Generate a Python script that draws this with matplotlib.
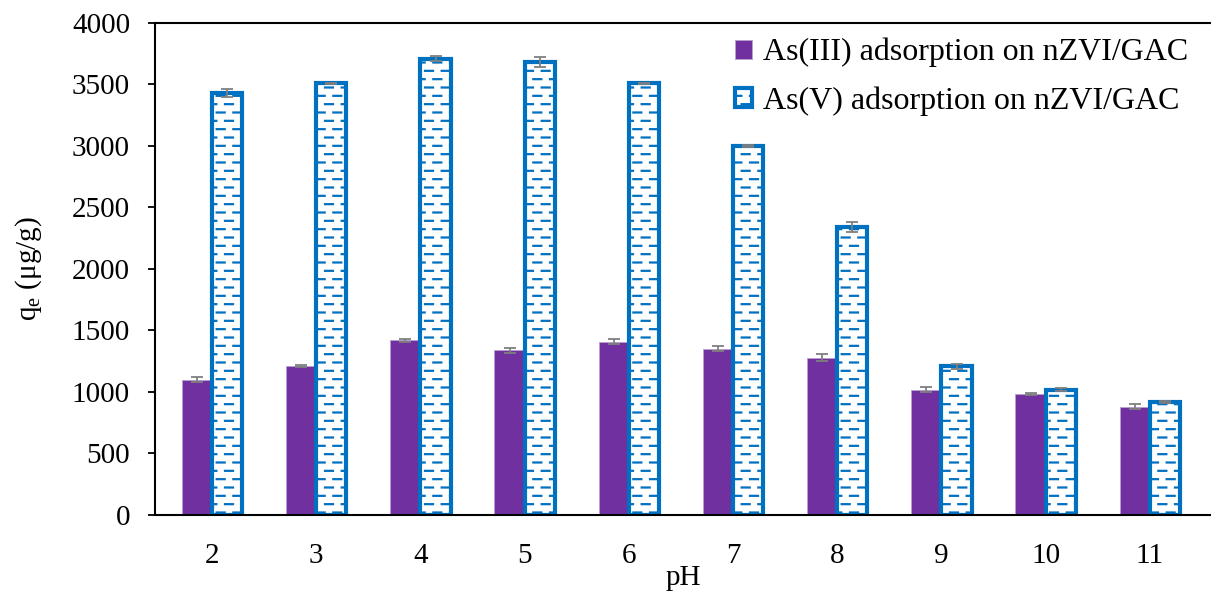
import matplotlib
matplotlib.use('Agg')
import matplotlib.pyplot as plt
import matplotlib.hatch as mhatch
from matplotlib.path import Path
import numpy as np

# ========= data =========
ph = ['2', '3', '4', '5', '6', '7', '8', '9', '10', '11']
as3 = [1100, 1210, 1420, 1340, 1410, 1350, 1280, 1020, 985, 880]
as3_err = [20, 10, 10, 20, 20, 20, 30, 20, 10, 20]
as5 = [3430, 3510, 3710, 3680, 3510, 3000, 2340, 1210, 1020, 920]
as5_err = [30, 5, 20, 40, 5, 5, 40, 20, 10, 10]


# staggered short dashes, like the Excel "dashed horizontal" pattern
class DashHatch(mhatch.HatchPatternBase):
    def __init__(self, hatch, density):
        self.rows = hatch.count('d') * density
        self.per_row = self.rows // 2
        self.num_vertices = self.rows * self.per_row * 2 if self.rows else 0

    def set_vertices_and_codes(self, vertices, codes):
        k = 0
        step = 1.0 / self.per_row
        for r in range(self.rows):
            y = (r + 0.5) / self.rows
            off = 0.0 if r % 2 == 0 else step / 2
            for c in range(self.per_row):
                x0 = c * step + off
                vertices[k] = (x0, y)
                vertices[k + 1] = (x0 + step * 0.48, y)
                codes[k] = Path.MOVETO
                codes[k + 1] = Path.LINETO
                k += 2


mhatch._hatch_types.append(DashHatch)

plt.rcParams['font.family'] = ['Liberation Serif', 'DejaVu Serif']
plt.rcParams['mathtext.fontset'] = 'custom'
plt.rcParams['mathtext.rm'] = 'Liberation Serif'
plt.rcParams['hatch.linewidth'] = 1.6

purple = '#7030A0'
blue = '#0070C0'

fig = plt.figure(figsize=(12.11, 6.0), dpi=100)
ax = fig.add_axes([0.128, 0.1417, 0.872, 0.82])

x = np.arange(len(ph))
w = 0.29
ax.bar(x - w / 2, as3, w, color=purple, edgecolor='#b9a0d0', linewidth=0.6,
       yerr=as3_err, capsize=4, error_kw=dict(ecolor='#7f7f7f', elinewidth=1.3, capthick=1.3),
       label='As(III) adsorption on nZVI/GAC', zorder=2)
ax.bar(x + w / 2, as5, w, color='white', edgecolor=blue, linewidth=3, hatch='dd',
       yerr=as5_err, capsize=4, error_kw=dict(ecolor='#7f7f7f', elinewidth=1.3, capthick=1.3),
       label='As(V) adsorption on nZVI/GAC', zorder=2)

ax.set_xlim(-0.547, 9.587)
ax.set_ylim(0, 4000)
ax.set_yticks(np.arange(0, 4001, 500))
ax.set_xticks(x)
ax.set_xticklabels(ph)
ax.tick_params(axis='y', direction='out', length=5, width=1.3, labelsize=21, pad=13)
ax.tick_params(axis='x', length=0, labelsize=21, pad=20)

for s in ['left', 'bottom', 'top']:
    ax.spines[s].set_linewidth(1.5)
ax.spines['right'].set_visible(False)

ax.set_xlabel('pH', fontsize=21, labelpad=-3)
ax.set_ylabel('q$_\\mathrm{e}$ (μg/g)', fontsize=21, labelpad=20)

leg = ax.legend(loc='upper right', bbox_to_anchor=(1.0, 1.015), frameon=False, fontsize=23,
                handlelength=0.55, handleheight=0.55, handletextpad=0.35, labelspacing=0.6,
                borderpad=0.2)

fig.savefig('out.png', dpi=100)
